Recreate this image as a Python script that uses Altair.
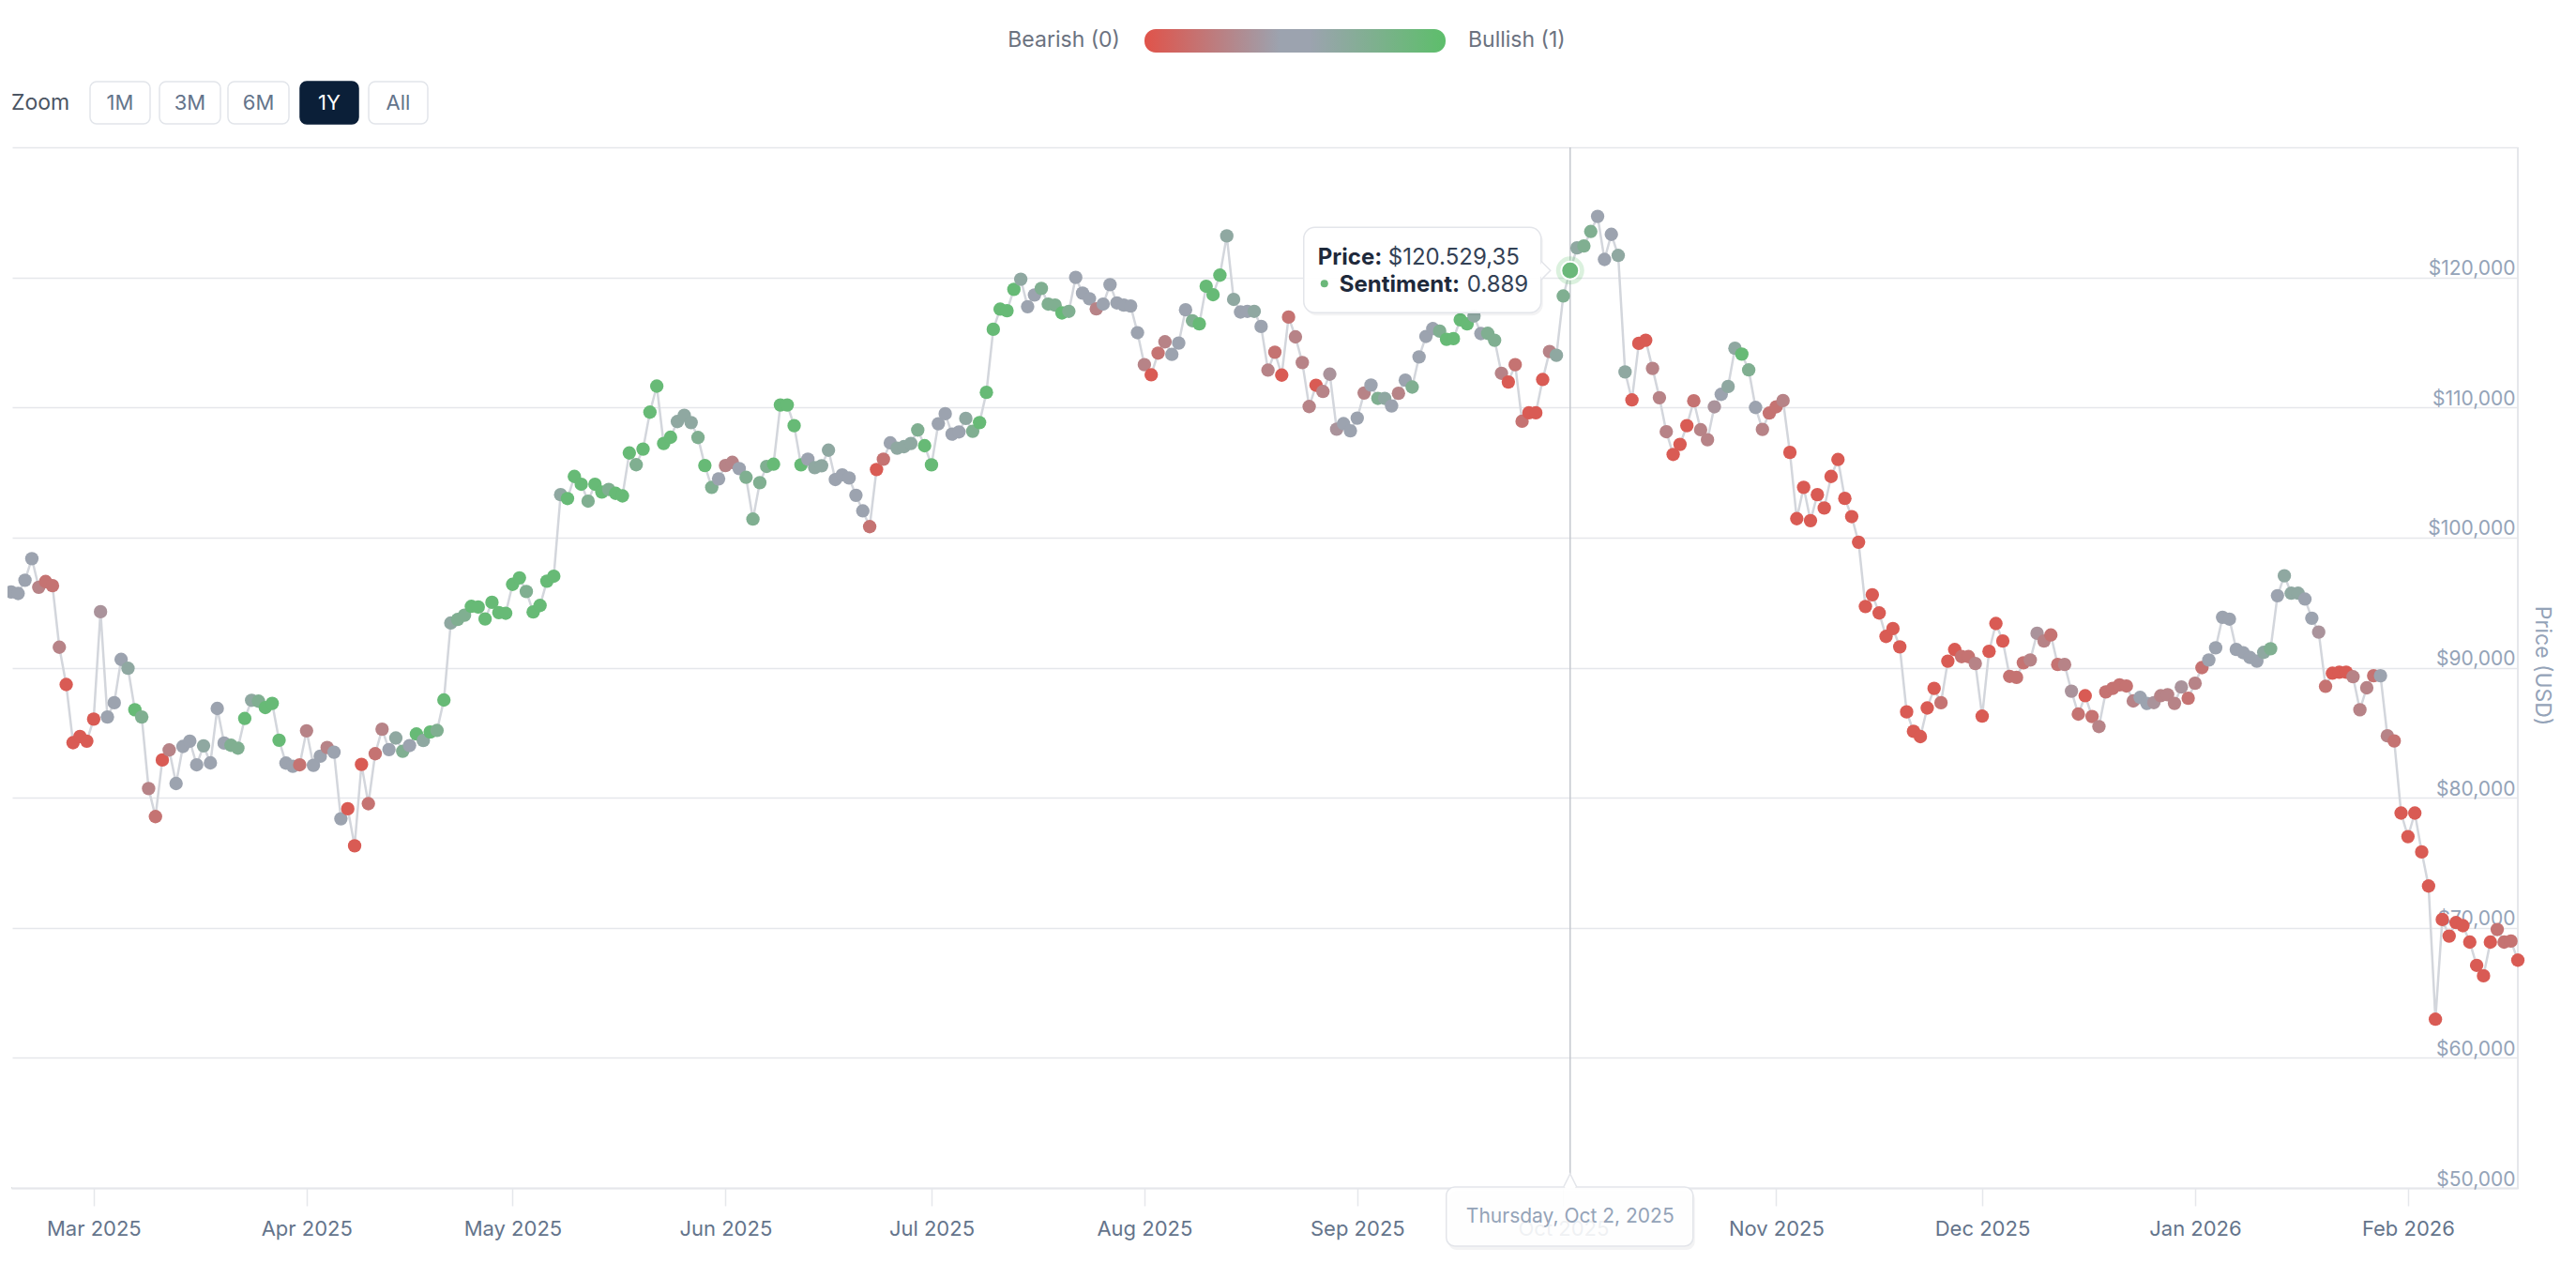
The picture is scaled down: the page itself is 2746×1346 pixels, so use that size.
import altair as alt
import pandas as pd

# sentiment levels (0 = bearish red, 0.5 = grey, 1 = bullish green)
R, r, m, mg, g, gg, G2, G = 0.05, 0.2, 0.3, 0.4, 0.5, 0.6, 0.72, 0.92

feb25_price = [95820, 95700, 96720, 98380, 96180, 96620, 96300, 91570, 88700, 84230, 84710, 84350]
feb25_sent = [g, g, g, g, m, r, r, m, R, R, R, R]

mar25_price = [86040, 94300, 86200, 87300, 90630, 89950, 86760, 86200, 80700, 78550, 82900, 83670, 81090,
               83940, 84350, 82530, 83990, 82680, 86860, 84200, 84030, 83810, 86090, 87490, 87420, 86930,
               87250, 84420, 82660, 82420, 82530]
mar25_sent = [R, mg, g, g, g, gg, G, G2, m, r, R, m, g, g, g, g, gg, g, g, g, G2, G2, G, gg, G2, G, G, G, g, g, r]

apr25_price = [85140, 82490, 83190, 83860, 83500, 78380, 79150, 76300, 82560, 79540, 83380, 85270, 83700,
               84590, 83570, 84010, 84900, 84400, 85050, 85170, 87510, 93430, 93700, 94030, 94710, 94660,
               93740, 95020, 94230, 94180]
apr25_sent = [m, g, g, m, g, g, R, R, R, r, r, m, g, gg, G2, g, G, gg, G, G2, G, gg, G2, G2, G, G, G, G, G, G]

may25_price = [96400, 96900, 95850, 94280, 94780, 96650, 97030, 103300, 103000, 104700, 104100, 102800,
               104100, 103500, 103700, 103400, 103200, 106500, 105600, 106800, 109640, 111640, 107230,
               107710, 108920, 109400, 108840, 107690, 105540, 103860, 104510]
may25_sent = [G, G, G2, G, G, G, G, gg, G, G, G, G2, G, G, G2, G, G, G, G2, G, G, G, G, G, gg, gg, gg, G2, G, G2, g]

jun25_price = [105540, 105780, 105300, 104630, 101420, 104220, 105470, 105640, 110190, 110190, 108600,
               105590, 106020, 105370, 105520, 106720, 104460, 104820, 104580, 103250, 102050, 100840,
               105230, 106020, 107280, 106870, 106990, 107230, 108270, 107060]
jun25_sent = [m, m, g, G2, G2, G2, G2, G, G, G, G, G, g, gg, gg, gg, g, g, g, g, g, r, R, r, g, gg, gg, gg, G2, G]

jul25_price = [105590, 108750, 109520, 107950, 108120, 109160, 108170, 108840, 111160, 116010, 117560,
               117440, 119080, 119860, 117750, 118650, 119150, 117950, 117870, 117270, 117390, 120000,
               118790, 118360, 117580, 117950, 119440, 118040, 117870, 117800, 115750]
jul25_sent = [G, g, g, g, g, gg, G2, G, G, G, G, G, G, gg, g, g, G2, G2, G2, G, G2, g, g, g, m, g, g, g, g, g, g]

aug25_price = [113290, 112510, 114180, 115050, 114080, 114950, 117510, 116670, 116430, 119320, 118670,
               120170, 123190, 118310, 117340, 117390, 117390, 116230, 112870, 114250, 112490, 116950,
               115430, 113450, 110070, 111710, 111230, 112560, 108330, 108760, 108210]
aug25_sent = [m, R, r, m, g, g, g, G2, G, G, G, G, gg, gg, g, g, gg, g, m, r, R, r, m, m, m, R, m, mg, mg, g, g]

sep25_price = [109180, 111110, 111720, 110700, 110700, 110120, 111090, 112100, 111570, 113890, 115460,
               116060, 115870, 115240, 115290, 116740, 116430, 117030, 115680, 115700, 115170, 112630,
               111960, 113290, 108940, 109590, 109590, 112150, 114300, 114010]
sep25_sent = [g, m, g, G2, gg, g, m, g, G2, g, g, g, G2, G, G, G, G, gg, g, G2, G2, m, R, r, r, R, R, R, m, gg]

oct25_price = [118570, 120529.35, 122270, 122420, 123530, 124690, 121380, 123310, 121690, 112730, 110580,
               114930, 115170, 113000, 110750, 108140, 106390, 107160, 108600, 110510, 108290, 107520,
               110050, 111010, 111610, 114550, 114100, 112890, 110000, 108310, 109570]
oct25_sent = [G2, 0.889, gg, G2, G2, g, g, g, gg, gg, R, R, R, m, m, m, R, R, R, r, m, m, mg, g, gg, gg, G,
              G2, g, m, r]

nov25_price = [110050, 110530, 106550, 101450, 103860, 101300, 103300, 102270, 104700, 106000, 103010,
               101610, 99640, 94700, 95600, 94200, 92400, 93000, 91600, 86600, 85100, 84700, 86900, 88400,
               87300, 90500, 91390, 90850, 90850, 90320]
nov25_sent = [r, m, R, R, R, R, R, R, R, R, R, R, R, R, R, R, R, R, R, R, R, R, R, R, r, R, R, r, r, m]

dec25_price = [86270, 91250, 93390, 92050, 89330, 89250, 90370, 90590, 92640, 92050, 92510, 90240, 90240,
               88190, 86430, 87840, 86240, 85470, 88130, 88400, 88670, 88590, 87440, 87710, 87250, 87310,
               87840, 87920, 87250, 88510, 87650]
dec25_sent = [R, R, R, R, r, r, r, m, mg, m, r, r, m, mg, r, R, r, m, r, r, r, r, m, g, g, mg, m, m, m, mg, r]

jan26_price = [88800, 90000, 90590, 91520, 93870, 93730, 91400, 91150, 90780, 90500, 91170, 91450, 95530,
               97060, 95720, 95720, 95270, 93800, 92730, 88560, 89570, 89650, 89650, 89300, 86760, 88450,
               89380, 89380, 84760, 84360, 78820]
jan26_sent = [m, r, g, g, g, g, g, g, g, g, gg, G2, g, gg, gg, gg, g, g, mg, r, R, R, R, m, m, m, r, g, m, r, R]

feb26_price = [77010, 78820, 75830, 73210, 62970, 70640, 69360, 70400, 70160, 68900, 67110, 66310, 68900,
               69870, 68900, 68980, 67510]
feb26_sent = [R, R, R, R, R, R, R, R, R, R, R, R, R, r, r, r, R]

months = [
    ("2025-02-17", feb25_price, feb25_sent), ("2025-03-01", mar25_price, mar25_sent),
    ("2025-04-01", apr25_price, apr25_sent), ("2025-05-01", may25_price, may25_sent),
    ("2025-06-01", jun25_price, jun25_sent), ("2025-07-01", jul25_price, jul25_sent),
    ("2025-08-01", aug25_price, aug25_sent), ("2025-09-01", sep25_price, sep25_sent),
    ("2025-10-01", oct25_price, oct25_sent), ("2025-11-01", nov25_price, nov25_sent),
    ("2025-12-01", dec25_price, dec25_sent), ("2026-01-01", jan26_price, jan26_sent),
    ("2026-02-01", feb26_price, feb26_sent),
]

rows = []
for start, prices, sents in months:
    days = pd.date_range(start, periods=len(prices), freq="D")
    for d, p, s in zip(days, prices, sents):
        rows.append({"date": d.strftime("%Y-%m-%d"), "price": p, "sentiment": s})
df = pd.DataFrame(rows)

hover_date = "2025-10-02"
hov = df[df["date"] == hover_date].copy()
hp = float(hov["price"].iloc[0])
hs = float(hov["sentiment"].iloc[0])
hov["price_txt"] = "$" + f"{hp:,.2f}".replace(",", "X").replace(".", ",").replace("X", ".")
hov["sent_txt"] = f"{hs:.3f}"
hov["date_txt"] = pd.Timestamp(hover_date).strftime("%A, %b %-d, %Y")

one = pd.DataFrame({"k": [0]})

RED, GREY, GREEN = "#e0534a", "#9ca3af", "#5dbe6b"
FONT = "Inter"

W, H = 2672, 1109

xscale = alt.Scale(type="utc", nice=False,
                   domain=[alt.DateTime(year=2025, month=2, date=17, utc=True),
                           alt.DateTime(year=2026, month=2, date=17, utc=True)])
tick_dates = [alt.DateTime(year=2025, month=mm, date=1, utc=True) for mm in range(3, 13)] + \
             [alt.DateTime(year=2026, month=mm, date=1, utc=True) for mm in (1, 2)]
xaxis = alt.Axis(values=tick_dates, labelExpr="utcFormat(datum.value, '%b %Y')", grid=False, title=None,
                 domain=True, domainColor="#e5e7eb", domainWidth=2,
                 ticks=True, tickColor="#e5e7eb", tickSize=19, tickWidth=1.5,
                 labelColor="#64748b", labelFontSize=22, labelPadding=14, labelFont=FONT,
                 labelFlush=False, labelOverlap=False)

yscale = alt.Scale(domain=[50000, 130000], nice=False, zero=False)
yaxis = alt.Axis(orient="right", values=list(range(50000, 130001, 10000)),
                 grid=True, gridColor="#e5e7eb", gridWidth=1.5,
                 domain=False,
                 ticks=False, tickSize=0,
                 labelAlign="right", labelBaseline="alphabetic", labelPadding=-3, labelOffset=-3,
                 labelColor="#94a3b8", labelFontSize=21, labelFont=FONT, labelOverlap=False,
                 labelExpr="datum.value >= 130000 ? '' : '$' + format(datum.value, ',')",
                 title="Price (USD)", titleColor="#94a3b8", titleFontSize=23, titleFontWeight="normal",
                 titleFont=FONT, titleAngle=90, titleX=25, titleY=552, titleAlign="center",
                 titleBaseline="middle")

xenc = alt.X("date:T", scale=xscale, axis=xaxis)
yenc = alt.Y("price:Q", scale=yscale, axis=yaxis)
cscale = alt.Scale(domain=[0, 0.5, 1], range=[RED, GREY, GREEN], interpolate="rgb")

# the plot has no left border: mask the view's left edge
mask_left = alt.Chart(one).mark_rule(color="white", strokeWidth=3).encode(
    x=alt.value(0), y=alt.value(-1), y2=alt.value(H - 1))

# right-hand edge line of the plot (price axis line)
edge = alt.Chart(one).mark_rule(color="#e5e7eb", strokeWidth=2).encode(
    x=alt.value(W), y=alt.value(0), y2=alt.value(H))

crosshair = alt.Chart(hov).mark_rule(color="#c5c8ce", strokeWidth=1.5).encode(
    x=xenc, y=alt.value(0), y2=alt.value(1094))

line = alt.Chart(df).mark_line(color="#d3d6dc", strokeWidth=2.5).encode(x=xenc, y=yenc)
points = alt.Chart(df).mark_circle(size=205, opacity=1).encode(
    x=xenc, y=yenc, color=alt.Color("sentiment:Q", scale=cscale, legend=None))

halo = alt.Chart(hov).mark_circle(size=900, color=GREEN, opacity=0.22).encode(x=xenc, y=yenc)
hpoint = alt.Chart(hov).mark_circle(size=360, opacity=1, stroke="white", strokeWidth=2).encode(
    x=xenc, y=yenc, color=alt.Color("sentiment:Q", scale=cscale, legend=None))

# tooltip
tip_shadow = alt.Chart(hov).mark_rect(color="#0f172a", opacity=0.05, cornerRadius=12,
                                      xOffset=-282, x2Offset=-29, yOffset=-43, y2Offset=48).encode(
    x=xenc, x2=alt.X2("date"), y=yenc, y2=alt.Y2("price"))
tip_box = alt.Chart(hov).mark_rect(fill="white", fillOpacity=0.97, stroke="#e3e5ea", strokeWidth=1.5,
                                   cornerRadius=12, xOffset=-284, x2Offset=-31, yOffset=-46,
                                   y2Offset=45).encode(
    x=xenc, x2=alt.X2("date"), y=yenc, y2=alt.Y2("price"))
tip_ptr = alt.Chart(hov).mark_point(shape="M 0 -1 L 1 0 L 0 1", size=400, filled=False, fill="white",
                                    fillOpacity=1, stroke="#e3e5ea", strokeWidth=1.5, opacity=1,
                                    xOffset=-31).encode(x=xenc, y=yenc)
tip_ptr_fill = alt.Chart(hov).mark_point(shape="M -0.3 -0.88 L 0.88 0 L -0.3 0.88 Z", size=400,
                                         filled=True, color="white", opacity=1,
                                         xOffset=-31).encode(x=xenc, y=yenc)
t_price_lbl = alt.Chart(hov).mark_text(text="Price:", font=FONT, fontSize=24, fontWeight="bold",
                                       color="#1e293b", align="left", baseline="alphabetic",
                                       dx=-269, dy=-6).encode(x=xenc, y=yenc)
t_price_val = alt.Chart(hov).mark_text(font=FONT, fontSize=24, color="#334155", align="left",
                                       baseline="alphabetic", dx=-194, dy=-6).encode(
    x=xenc, y=yenc, text="price_txt:N")
t_dot = alt.Chart(hov).mark_circle(size=64, opacity=1, xOffset=-262, yOffset=14).encode(
    x=xenc, y=yenc, color=alt.Color("sentiment:Q", scale=cscale, legend=None))
t_sent_lbl = alt.Chart(hov).mark_text(text="Sentiment:", font=FONT, fontSize=24, fontWeight="bold",
                                      color="#1e293b", align="left", baseline="alphabetic",
                                      dx=-246, dy=23).encode(x=xenc, y=yenc)
t_sent_val = alt.Chart(hov).mark_text(font=FONT, fontSize=24, color="#334155", align="left",
                                      baseline="alphabetic", dx=-110, dy=23).encode(
    x=xenc, y=yenc, text="sent_txt:N")

# date label under the crosshair
d_shadow = alt.Chart(hov).mark_rect(color="#0f172a", opacity=0.05, cornerRadius=9,
                                    xOffset=-130, x2Offset=133).encode(
    x=xenc, x2=alt.X2("date"), y=alt.value(1112), y2=alt.value(1175))
d_box = alt.Chart(hov).mark_rect(fill="white", fillOpacity=0.9, stroke="#e3e5ea", strokeWidth=1.5,
                                 cornerRadius=9, xOffset=-132, x2Offset=131).encode(
    x=xenc, x2=alt.X2("date"), y=alt.value(1108), y2=alt.value(1171))
d_ptr = alt.Chart(hov).mark_point(shape="M -0.5 0 L 0 -1 L 0.5 0", size=784, filled=False, fill="white",
                                  fillOpacity=1, stroke="#e3e5ea", strokeWidth=1.5, opacity=1).encode(
    x=xenc, y=alt.value(1108))
d_ptr_fill = alt.Chart(hov).mark_point(shape="M -0.42 0.1 L 0 -0.88 L 0.42 0.1 Z", size=784, filled=True,
                                       color="white", opacity=1).encode(x=xenc, y=alt.value(1108))
d_text = alt.Chart(hov).mark_text(font=FONT, fontSize=21, color="#94a3b8", align="center",
                                  baseline="middle").encode(x=xenc, y=alt.value(1140), text="date_txt:N")

# legend (gradient)
grad = alt.Gradient(gradient="linear", x1=0, x2=1, y1=0, y2=0,
                    stops=[alt.GradientStop(color=RED, offset=0),
                           alt.GradientStop(color=GREY, offset=0.45),
                           alt.GradientStop(color=GREY, offset=0.55),
                           alt.GradientStop(color=GREEN, offset=1)])
leg_bar = alt.Chart(one).mark_rect(color=grad, cornerRadius=12).encode(
    x=alt.value(1208), x2=alt.value(1529), y=alt.value(-126), y2=alt.value(-101))


def label(txt, x, y, **kw):
    return alt.Chart(one).mark_text(text=txt, font=FONT, baseline="middle", **kw).encode(
        x=alt.value(x), y=alt.value(y))


leg_l = label("Bearish (0)", 1182, -114, align="right", fontSize=23, color="#6b7280")
leg_r = label("Bullish (1)", 1553, -114, align="left", fontSize=23, color="#6b7280")

# zoom buttons
zoom_lbl = label("Zoom", 0, -47, align="left", fontSize=23, color="#4b5563")
btn_names = ["1M", "3M", "6M", "1Y", "All"]
btn_x0 = [84, 158, 231, 308, 381]
btn_x1 = [148, 223, 296, 370, 444]
btn_layers = []
for name, a, b in zip(btn_names, btn_x0, btn_x1):
    active = name == "1Y"
    btn_layers.append(alt.Chart(one).mark_rect(
        fill="#0b1f38" if active else "white", stroke="#0b1f38" if active else "#e2e5ea",
        strokeWidth=1.5, cornerRadius=7).encode(
        x=alt.value(a), x2=alt.value(b), y=alt.value(-70), y2=alt.value(-25)))
    btn_layers.append(label(name, (a + b) / 2, -47, align="center", fontSize=22,
                            color="white" if active else "#64748b"))

chart = alt.layer(
    mask_left, edge, crosshair, line, points, halo, hpoint,
    tip_shadow, tip_box, tip_ptr_fill, tip_ptr, t_price_lbl, t_price_val, t_dot, t_sent_lbl, t_sent_val,
    d_shadow, d_box, d_ptr_fill, d_ptr, d_text,
    leg_bar, leg_l, leg_r, zoom_lbl, *btn_layers
).properties(
    width=W, height=H,
    padding={"left": 4, "top": 149, "right": 50, "bottom": 70},
    autosize=alt.AutoSizeParams(type="none"),
).configure_view(stroke="transparent", strokeWidth=0, fill="white").configure(font=FONT, background="white")

chart.save("out.html", embed_options={"renderer": "svg", "actions": False})
